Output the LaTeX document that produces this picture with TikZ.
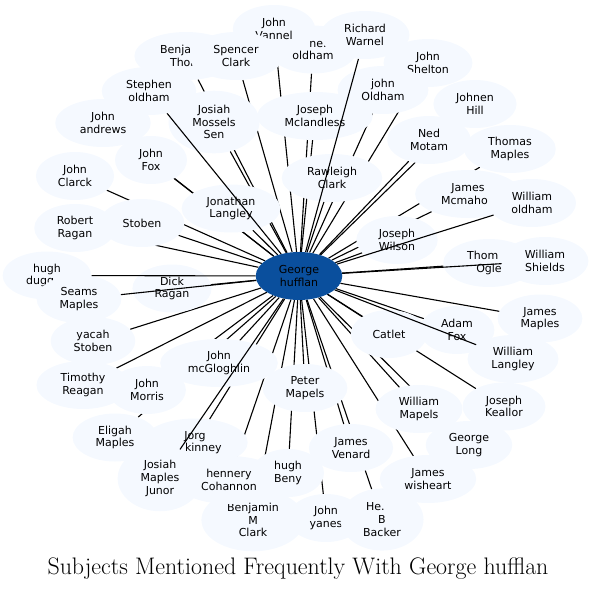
\documentclass[tikz,border=0pt]{standalone}
\usepackage{fontspec}
\newfontfamily\nodefont{DejaVu Sans}
\usetikzlibrary{shapes.geometric}
\pgfdeclarelayer{background}
\pgfsetlayers{background,main}
\definecolor{pale}{RGB}{245,249,255}
\definecolor{hub}{RGB}{10,79,157}
\tikzset{
  person/.style={ellipse, fill=pale, draw=none, align=center,
    inner xsep=10.56pt, inner ysep=5.28pt, minimum width=72pt, minimum height=48pt,
    font=\nodefont\fontsize{11}{12.6}\selectfont},
  hubnode/.style={person, fill=hub},
  link/.style={draw=black, line width=1.1pt},
}
\begin{document}
\begin{tikzpicture}[x=1pt,y=-1pt]
\useasboundingbox (0,0) rectangle (595,590);
% nodes, drawn bottom to top
\node[person] (nold) at (313,49.5) {\phantom{Ja}ne.\\oldham};
\node[person] (jvan) at (274,29) {John\\Vannel};
\node[person] (bthor) at (186,56) {Benja\phantom{min}\\Thor\phantom{n}};
\node[person] (spc) at (236,56) {Spencer\\Clark};
\node[person] (rwar) at (365,35) {Richard\\Warnel};
\node[person] (jshel) at (428,63) {John\\Shelton};
\node[person] (jold) at (383,90) {john\\Oldham};
\node[person] (jhill) at (475,104) {Johnen\\Hill};
\node[person] (nmot) at (429,140) {Ned\\Motam};
\node[person] (tmap) at (510,149) {Thomas\\Maples};
\node[person] (jmcl) at (315,116) {Joseph\\Mclandless};
\node[person] (rcla) at (332,178) {Rawleigh\\Clark};
\node[person] (stold) at (149,91) {Stephen\\oldham};
\node[person] (jmos) at (214,122) {Josiah\\Mossels\\Sen};
\node[person] (jand) at (103,123) {John\\andrews};
\node[person] (jfox) at (151,160) {John\\Fox};
\node[person] (jclar) at (75,176) {John\\Clarck};
\node[person] (jlang) at (231,208.5) {Jonathan\\Langley};
\node[person] (rrag) at (75,228) {Robert\\Ragan};
\node[person] (stob) at (142,223) {Stoben};
\node[person] (hdug) at (47,275.5) {hugh\\dugg\phantom{an}};
\node[person] (smap) at (79,299) {Seams\\Maples};
\node[person] (drag) at (172,288.5) {Dick\\Ragan};
\node[person] (ysto) at (93,341) {yacah\\Stoben};
\node[person] (treag) at (83,385) {Timothy\\Reagan};
\node[person] (jmor) at (147,390) {John\\Morris};
\node[person] (jmcg) at (219,363) {John\\mcGloghlin};
\node[person] (emap) at (115,437.5) {Eligah\\Maples};
\node[person] (bmc) at (253,520) {Benjamin\\M\\Clark};
\node[person] (hcoh) at (229,480) {hennery\\Cohannon};
\node[person] (jorg) at (195,442.5) {Jorg\\\phantom{mc}kinney};
\node[person] (jmj) at (160,478.5) {Josiah\\Maples\\Junor};
\node[person] (pmap) at (305,388) {Peter\\Mapels};
\node[person] (hben) at (288,473) {hugh\\Beny};
\node[person] (jyan) at (326,518) {John\\yanes};
\node[person] (jven) at (351,448) {James\\Venard};
\node[person] (hbb) at (382,519.5) {\makebox[32pt][l]{He.}\\B\\Backer};
\node[person] (jwis) at (428,479) {James\\wisheart};
\node[person] (glong) at (469,445) {George\\Long};
\node[person] (wmap) at (419,409) {William\\Mapels};
\node[person] (jkea) at (504,406.5) {Joseph\\Keallor};
\node[person] (wlang) at (513,359) {William\\Langley};
\node[person] (jmap) at (540,318.5) {James\\Maples};
\node[person] (afox) at (457,330) {Adam\\Fox};
\node[person] (catl) at (389,334) {Catlet};
\node[person] (jwil) at (397,240) {Joseph\\Wilson};
\node[person] (togle) at (489,263) {Thom\phantom{as}\\Ogle};
\node[person] (wshi) at (545,261) {William\\Shields};
\node[person] (jmcm) at (468,194) {James\\Mcmaho\phantom{n}};
\node[person] (wold) at (532,203) {William\\oldham};
\node[hubnode] (g) at (299,276) {George\\hufflan};
% edges hidden beneath the ellipses
\begin{pgfonlayer}{background}
\foreach \n in {nold,jvan,bthor,spc,jshel,jold,jhill,nmot,tmap,jmcl,rcla,jmos,jand,jfox,jclar,jlang,rrag,stob,drag,ysto,treag,jmor,jmcg,emap,bmc,hcoh,jorg,pmap,hben,jyan,jven,hbb,jwis,glong,wmap,jkea,jmap,afox,catl,jwil,togle,jmcm}
  \draw[link] (g) -- (\n);
\end{pgfonlayer}
% edges drawn over the ellipses
\foreach \n in {rwar,stold,wold,wshi,wlang,smap,jmj,hdug}
  \draw[link] (g) -- (\n);
\node (title) at (298,569) {\fontsize{23.9}{28}\selectfont Subjects Mentioned Frequently With George hufflan};
\end{tikzpicture}
\end{document}
